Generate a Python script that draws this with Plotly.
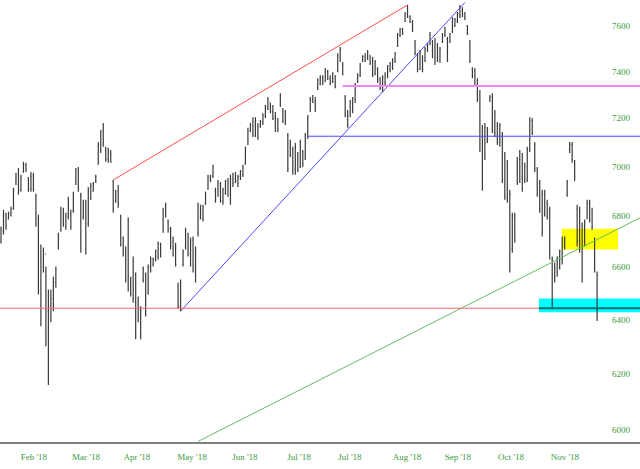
import plotly.graph_objects as go

# ---------------- data ----------------
highs = [6759, 6825, 6813, 6817, 6837, 6913, 6974, 6994, 6966, 7019,
         7015, 6957, 6978, 6974, 6889, 6805, 6688, 6676, 6602, 6514,
         6514, 6563, 6602, 6734, 6837, 6833, 6813, 6877, 6825, 6897,
         6994, 6998, 6893, 6865, 6865, 6917, 6933, 6937, 6966, 7101,
         7151, 7180, 7081, 7077, 7068, 6945, 6905, 6925, 6805, 6719,
         6680, 6794, 6563, 6641, 6579, 6487, 6450, 6602, 6579, 6610,
         6641, 6637, 6668, 6699, 6695, 6833, 6853, 6786, 6758, 6719,
         6695, 6541, 6552, 6668, 6754, 6734, 6715, 6719, 6680, 6853,
         6845, 6845, 6897, 6966, 6966, 7007, 6913, 6945, 6937, 6913,
         6945, 6953, 6966, 6974, 6978, 6966, 6986, 7007, 7081, 7160,
         7180, 7205, 7205, 7180, 7193, 7222, 7256, 7290, 7265, 7256,
         7227, 7201, 7307, 7244, 7235, 7139, 7110, 7081, 7097, 7060,
         7110, 7068, 7139, 7214, 7290, 7299, 7290, 7371, 7384, 7384,
         7415, 7406, 7384, 7397, 7384, 7480, 7507, 7441, 7299, 7235,
         7278, 7290, 7350, 7393, 7437, 7471, 7480, 7494, 7471, 7463,
         7450, 7419, 7376, 7384, 7397, 7428, 7441, 7458, 7485, 7569,
         7591, 7591, 7662, 7694, 7648, 7626, 7538, 7480, 7494, 7471,
         7507, 7525, 7573, 7538, 7547, 7525, 7507, 7569, 7595, 7551,
         7569, 7639, 7635, 7662, 7694, 7684, 7662, 7604, 7538, 7419,
         7415, 7371, 7320, 7172, 7180, 7164, 7299, 7307, 7235, 7185,
         7180, 7143, 7060, 7027, 6905, 6813, 6813, 7039, 7068, 7056,
         7015, 7081, 7205, 7201, 7101, 6998, 6945, 6905, 6905, 6865,
         6837, 6641, 6618, 6641, 6668, 6719, 6719, 6945, 7101, 7101,
         7027, 6845, 6837, 6774, 6786, 6865, 6865, 6833, 6715, 6583]

lows = [6692, 6727, 6746, 6786, 6798, 6825, 6925, 6885, 6897, 6974,
        6978, 6897, 6897, 6897, 6758, 6495, 6375, 6579, 6301, 6160,
        6390, 6432, 6521, 6668, 6738, 6758, 6746, 6786, 6746, 6813,
        6925, 6897, 6656, 6786, 6649, 6758, 6865, 6897, 6933, 7007,
        7056, 7081, 7019, 7015, 7015, 6813, 6853, 6833, 6680, 6641,
        6541, 6506, 6487, 6464, 6327, 6390, 6327, 6541, 6412, 6495,
        6579, 6602, 6622, 6629, 6637, 6734, 6794, 6734, 6668, 6641,
        6602, 6439, 6432, 6602, 6668, 6641, 6602, 6579, 6541, 6719,
        6786, 6778, 6845, 6905, 6937, 6953, 6853, 6877, 6853, 6845,
        6885, 6877, 6845, 6917, 6933, 6917, 6945, 6957, 7007, 7089,
        7143, 7122, 7122, 7110, 7160, 7172, 7201, 7235, 7222, 7193,
        7143, 7143, 7248, 7180, 7172, 6978, 7039, 6966, 6966, 6978,
        6994, 6998, 7027, 7114, 7227, 7265, 7227, 7320, 7341, 7341,
        7354, 7363, 7341, 7350, 7328, 7397, 7441, 7384, 7205, 7160,
        7205, 7222, 7265, 7350, 7376, 7441, 7441, 7450, 7428, 7376,
        7384, 7350, 7320, 7311, 7341, 7371, 7397, 7406, 7437, 7507,
        7551, 7560, 7617, 7635, 7613, 7573, 7472, 7397, 7406, 7397,
        7441, 7485, 7516, 7458, 7428, 7441, 7437, 7525, 7551, 7441,
        7525, 7569, 7595, 7613, 7635, 7639, 7626, 7560, 7437, 7371,
        7333, 7269, 7060, 6901, 7027, 7097, 7269, 7139, 7122, 7089,
        7081, 6933, 6865, 6853, 6579, 6656, 6695, 6925, 6933, 6897,
        6933, 6937, 7060, 7130, 6978, 6877, 6813, 6719, 6798, 6786,
        6629, 6446, 6541, 6563, 6591, 6610, 6668, 6877, 7056, 7015,
        6940, 6680, 6656, 6541, 6680, 6786, 6774, 6746, 6579, 6395]

opens = [6700, 6740, 6800, 6790, 6805, 6830, 6930, 6970, 6905, 6980,
         7005, 6950, 6910, 6960, 6880, 6790, 6520, 6600, 6650, 6430,
         6400, 6460, 6540, 6680, 6745, 6820, 6760, 6800, 6810, 6820,
         6930, 6990, 6880, 6800, 6840, 6770, 6870, 6900, 6940, 7010,
         7090, 7150, 7070, 7030, 7050, 6940, 6860, 6900, 6800, 6710,
         6670, 6560, 6550, 6480, 6570, 6400, 6440, 6550, 6570, 6500,
         6600, 6610, 6630, 6640, 6690, 6740, 6840, 6780, 6750, 6700,
         6680, 6530, 6450, 6610, 6680, 6730, 6650, 6710, 6600, 6730,
         6800, 6840, 6850, 6910, 6950, 6960, 6900, 6880, 6930, 6860,
         6890, 6940, 6870, 6930, 6950, 6930, 6960, 6970, 7010, 7100,
         7150, 7170, 7130, 7170, 7165, 7180, 7210, 7240, 7270, 7230,
         7200, 7150, 7260, 7230, 7200, 7130, 7050, 7070, 6990, 7050,
         7000, 7060, 7040, 7130, 7240, 7280, 7270, 7330, 7350, 7375,
         7360, 7400, 7370, 7355, 7380, 7400, 7460, 7430, 7290, 7210,
         7210, 7240, 7280, 7355, 7385, 7445, 7450, 7460, 7470, 7450,
         7390, 7410, 7365, 7320, 7350, 7380, 7410, 7420, 7445, 7510,
         7560, 7585, 7620, 7650, 7640, 7615, 7530, 7470, 7410, 7460,
         7450, 7495, 7520, 7530, 7460, 7510, 7450, 7530, 7560, 7540,
         7530, 7575, 7600, 7620, 7645, 7670, 7640, 7600, 7530, 7410,
         7400, 7360, 7300, 7150, 7030, 7110, 7280, 7290, 7140, 7170,
         7100, 7130, 7040, 6870, 6890, 6670, 6790, 6940, 7030, 6960,
         6940, 6950, 7070, 7190, 7090, 6990, 6930, 6890, 6810, 6850,
         6830, 6630, 6560, 6580, 6600, 6630, 6680, 6890, 7070, 7090,
         7010, 6830, 6700, 6760, 6700, 6800, 6850, 6820, 6700, 6570]

closes = [6750, 6810, 6760, 6810, 6830, 6905, 6960, 6900, 6955, 7010,
          6990, 6905, 6960, 6905, 6770, 6510, 6640, 6660, 6320, 6250,
          6480, 6540, 6590, 6720, 6820, 6770, 6800, 6860, 6760, 6890,
          6980, 6910, 6680, 6850, 6670, 6900, 6920, 6930, 6960, 7090,
          7140, 7100, 7030, 7060, 7020, 6830, 6890, 6850, 6690, 6660,
          6550, 6780, 6500, 6620, 6340, 6470, 6340, 6590, 6420, 6600,
          6630, 6630, 6660, 6690, 6650, 6820, 6810, 6745, 6680, 6650,
          6610, 6450, 6540, 6660, 6740, 6650, 6700, 6590, 6660, 6840,
          6830, 6790, 6890, 6960, 6945, 7000, 6870, 6940, 6860, 6905,
          6940, 6880, 6950, 6970, 6940, 6960, 6980, 7000, 7075, 7150,
          7170, 7130, 7190, 7120, 7185, 7215, 7250, 7280, 7230, 7200,
          7150, 7190, 7300, 7190, 7180, 6990, 7100, 6980, 7080, 6990,
          7100, 7010, 7130, 7200, 7280, 7270, 7240, 7360, 7375, 7350,
          7405, 7370, 7350, 7390, 7335, 7470, 7500, 7390, 7215, 7170,
          7270, 7285, 7340, 7385, 7430, 7465, 7475, 7485, 7435, 7390,
          7440, 7360, 7330, 7375, 7390, 7420, 7435, 7450, 7480, 7560,
          7585, 7570, 7655, 7640, 7620, 7580, 7480, 7410, 7480, 7410,
          7500, 7520, 7560, 7470, 7520, 7450, 7500, 7560, 7590, 7450,
          7565, 7630, 7625, 7655, 7685, 7650, 7630, 7565, 7445, 7380,
          7340, 7280, 7080, 6920, 7160, 7150, 7290, 7150, 7220, 7100,
          7170, 6950, 6880, 7000, 6600, 6800, 6710, 7020, 6950, 6910,
          7000, 7070, 7190, 7140, 6990, 6890, 6830, 6740, 6890, 6800,
          6650, 6460, 6600, 6630, 6660, 6700, 6710, 6935, 7090, 7030,
          6960, 6700, 6820, 6560, 6770, 6850, 6790, 6760, 6600, 6420]

bar_index = list(range(len(highs)))

tick_pos = [13.2, 34.1, 54.5, 76.6, 97.8, 119.5, 139.9, 162.8, 183.2, 204.5, 226.1]
tick_text = ["Feb '18", "Mar '18", "Apr '18", "May '18", "Jun '18", "Jul '18",
             "Jul '18", "Aug '18", "Sep '18", "Oct '18", "Nov '18"]
price_ticks = [6000, 6200, 6400, 6600, 6800, 7000, 7200, 7400, 7600]

# annotation lines (bar index, price)
red_trend_x, red_trend_y = [45, 163], [6945, 7694]
blue_trend_x, blue_trend_y = [72, 186], [6432, 7705]
green_trend_x, green_trend_y = [79, 256.2], [5960, 6793]
red_level_x, red_level_y = [-1, 215.7], [6443, 6443]
teal_level_x, teal_level_y = [215.7, 257], [6443, 6443]
blue_level_x, blue_level_y = [122.7, 257], [7125, 7125]
pink_level_x, pink_level_y = [137, 257], [7337, 7337]
yellow_box_x, yellow_box_y = [224.9, 247.4], [6668, 6750]
cyan_box_x, cyan_box_y = [215.7, 257], [6428, 6480]

# ---------------- figure ----------------
fig = go.Figure()
fig.add_trace(go.Ohlc(
    x=bar_index, open=opens, high=highs, low=lows, close=closes,
    increasing=dict(line=dict(color="#3a3a3a", width=1.2)),
    decreasing=dict(line=dict(color="#3a3a3a", width=1.2)),
    tickwidth=0.3, showlegend=False, hoverinfo="skip"))

def add_line(xs, ys, color, width=1):
    fig.add_trace(go.Scatter(x=xs, y=ys, mode="lines",
                             line=dict(color=color, width=width),
                             showlegend=False, hoverinfo="skip"))

add_line(red_trend_x, red_trend_y, "#ff4d4d")
add_line(blue_trend_x, blue_trend_y, "#4a4aff")
add_line(green_trend_x, green_trend_y, "#66bb66")
add_line(red_level_x, red_level_y, "#ff6666")
add_line(teal_level_x, teal_level_y, "#006e6e", 2)
add_line(blue_level_x, blue_level_y, "#4a4aff")
add_line(pink_level_x, pink_level_y, "#ee88ee", 2)

fig.add_shape(type="rect", xref="x", yref="y", layer="below",
              x0=yellow_box_x[0], x1=yellow_box_x[1],
              y0=yellow_box_y[0], y1=yellow_box_y[1],
              fillcolor="#ffff00", line=dict(width=0))
fig.add_shape(type="rect", xref="x", yref="y", layer="below",
              x0=cyan_box_x[0], x1=cyan_box_x[1],
              y0=cyan_box_y[0], y1=cyan_box_y[1],
              fillcolor="#00ffff", line=dict(width=0))

fig.update_layout(
    width=640, height=469,
    margin=dict(l=0, r=0, t=0, b=27),
    paper_bgcolor="white", plot_bgcolor="white",
    showlegend=False,
    font=dict(family="Liberation Serif", size=9, color="#3c9a3c"),
    xaxis=dict(range=[-0.4, 256.2], rangeslider=dict(visible=False),
               tickmode="array", tickvals=tick_pos, ticktext=tick_text,
               showgrid=False, zeroline=False, showline=True,
               linecolor="#7f7f7f", linewidth=2, ticks="",
               ticklabelstandoff=5,
               tickfont=dict(family="Liberation Serif", size=9, color="#3c9a3c")),
    yaxis=dict(type="log", range=[3.77510, 3.88740], side="right",
               tickmode="array", tickvals=price_ticks,
               ticktext=[str(v) for v in price_ticks],
               ticklabelposition="inside", ticklabelstandoff=7,
               showgrid=False, zeroline=False, showline=False, ticks="",
               tickfont=dict(family="Liberation Serif", size=9, color="#3c9a3c")),
)

fig.write_html("out.html")
